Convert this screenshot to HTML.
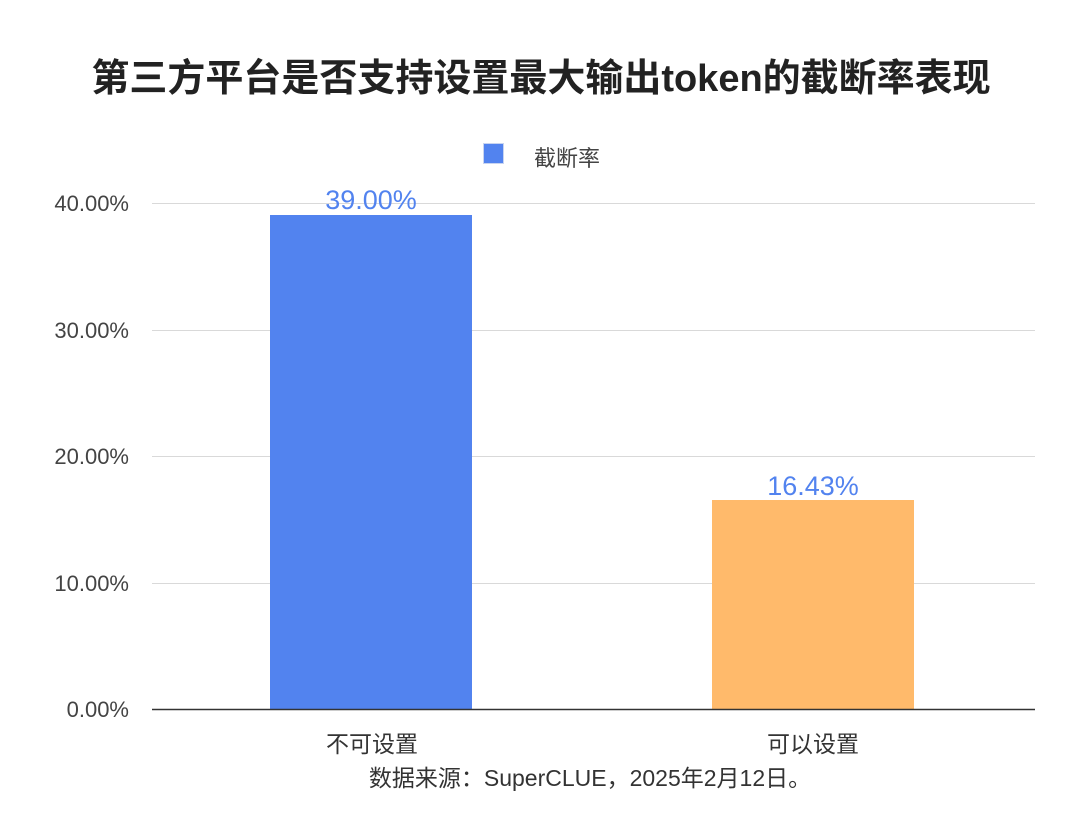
<!DOCTYPE html>
<html><head><meta charset="utf-8"><style>
html,body{margin:0;padding:0;background:#fff;}
body{width:1080px;height:838px;position:relative;overflow:hidden;font-family:"Liberation Sans","Noto Sans CJK SC",sans-serif;color:#333;}
.abs{position:absolute;white-space:nowrap;}
</style></head><body>
<div class="abs" style="left:0;width:1082px;top:47px;text-align:center;font-size:38px;font-weight:bold;color:#222;">第三方平台是否支持设置最大输出token的截断率表现</div>
<div class="abs" style="left:483px;top:143px;width:21px;height:21px;background:#5283EF;border:1px solid #c8d4f0;box-sizing:border-box;"></div>
<div class="abs" style="left:534px;top:141px;font-size:22px;color:#444;">截断率</div>
<svg class="abs" style="left:0;top:0" width="1080" height="838">
<g stroke="#d9d9d9" stroke-width="1">
<line x1="152" y1="203.5" x2="1035" y2="203.5"/>
<line x1="152" y1="330.5" x2="1035" y2="330.5"/>
<line x1="152" y1="456.5" x2="1035" y2="456.5"/>
<line x1="152" y1="583.5" x2="1035" y2="583.5"/>
</g>
<rect x="270" y="215" width="202" height="494" fill="#5283EF"/>
<rect x="712" y="500" width="202" height="209" fill="#FFBA6B"/>
<line x1="152" y1="709.5" x2="1035" y2="709.5" stroke="#333" stroke-width="1.5"/>
<g font-family="Liberation Sans, sans-serif" font-size="22" fill="#444" text-anchor="end">
<text x="129" y="211">40.00%</text>
<text x="129" y="338">30.00%</text>
<text x="129" y="464">20.00%</text>
<text x="129" y="591">10.00%</text>
<text x="129" y="717">0.00%</text>
</g>
<g font-family="Liberation Sans, sans-serif" font-size="27" fill="#5283EF" text-anchor="middle">
<text x="371" y="209">39.00%</text>
<text x="813" y="495">16.43%</text>
</g>
<g font-family="Liberation Sans, Noto Sans CJK SC, sans-serif" font-size="23" fill="#333" text-anchor="middle">
<text x="372" y="752">不可设置</text>
<text x="813" y="752">可以设置</text>
<text x="590" y="786">数据来源：SuperCLUE，2025年2月12日。</text>
</g>
</svg>
</body></html>
